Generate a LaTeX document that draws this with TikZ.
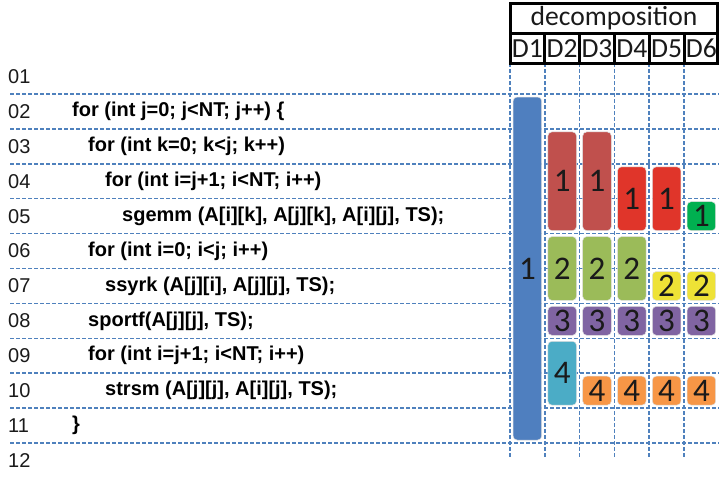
\documentclass[tikz,border=0pt]{standalone}
\usepackage{fontspec}
\setmainfont{Liberation Sans}
\newfontfamily\calib{Carlito}
\definecolor{gridblue}{HTML}{4F81BD}
\definecolor{cblue}{HTML}{4F7FBF}
\definecolor{cdred}{HTML}{C0504D}
\definecolor{cbred}{HTML}{E0352A}
\definecolor{cdgreen}{HTML}{00B050}
\definecolor{clgreen}{HTML}{9BBB59}
\definecolor{cyellow}{HTML}{EEE236}
\definecolor{cpurple}{HTML}{8064A2}
\definecolor{cteal}{HTML}{4BACC6}
\definecolor{corange}{HTML}{F79646}
\definecolor{txt}{HTML}{1A1A1A}
\tikzset{
  gridline/.style={draw=gridblue, line width=1.5pt, dash pattern=on 4pt off 2pt},
  frame/.style={draw=black, line width=3pt},
  blk/.style={rounded corners=4pt, minimum width=28.6pt, inner sep=0pt, text=txt,
              draw=white!75!gray, line width=0.5pt,
              font=\calib\fontsize{33}{33}\selectfont},
  hdr/.style={inner sep=0pt, text=txt, font=\calib\fontsize{27.6}{27.6}\selectfont},
  lnum/.style={anchor=west, inner sep=0pt, text=txt, font=\fontsize{20}{20}\selectfont},
  code/.style={anchor=west, inner sep=0pt, text=black, font=\bfseries\fontsize{20}{20}\selectfont},
}
\begin{document}
\begin{tikzpicture}[x=1pt, y=-1pt]
\useasboundingbox (0,0) rectangle (719,477);
% horizontal grid lines
\foreach \k in {0,...,10} {
  \draw[gridline] (10,94+34.9*\k) -- (719,94+34.9*\k);
}
% vertical grid lines
\foreach \k in {0,...,5} {
  \draw[gridline] (510+34.8*\k,63) -- (510+34.8*\k,458);
}
% header
\draw[frame] (510,3) rectangle (717,63);
\draw[frame] (510,33) -- (717,33);
\foreach \k in {1,...,5} {
  \draw[frame] (510+34.8*\k,33) -- (510+34.8*\k,63);
}
\node[hdr] (dec) at (614,18) {decomposition};
\foreach \k in {1,...,6} {
  \node[hdr] (D\k) at (510+34.8*\k-17.4,48.5) {D\k};
}
% line numbers
\foreach \r in {1,...,9} {
  \node[lnum] (n\r) at (8,76.55+34.9*\r-34.9) {0\r};
}
\foreach \r in {10,11,12} {
  \node[lnum] (n\r) at (8,76.55+34.9*\r-34.9) {\r};
}
% code
\node[code] (c02) at (72,111.45) {for (int j=0; j<NT; j++) \{};
\node[code] (c03) at (88,146.35) {for (int k=0; k<j; k++)};
\node[code] (c04) at (105,181.25) {for (int i=j+1; i<NT; i++)};
\node[code] (c05) at (122,216.15) {sgemm (A[i][k], A[j][k], A[i][j], TS);};
\node[code] (c06) at (88,251.05) {for (int i=0; i<j; i++)};
\node[code] (c07) at (105,285.95) {ssyrk (A[j][i], A[j][j], TS);};
\node[code] (c08) at (88,320.85) {sportf(A[j][j], TS);};
\node[code] (c09) at (88,355.75) {for (int i=j+1; i<NT; i++)};
\node[code] (c10) at (105,390.65) {strsm (A[j][j], A[i][j], TS);};
\node[code] (c11) at (72,425.55) {\}};
% blocks
\node[blk, fill=cblue, minimum height=343pt] (b1) at (527.4,268.5) {1};
\node[blk, fill=cdred, minimum height=98.7pt] (r2) at (562.2,181.25) {1};
\node[blk, fill=cdred, minimum height=98.7pt] (r3) at (597.0,181.25) {1};
\node[blk, fill=cbred, minimum height=63.8pt] (r4) at (631.8,198.7) {1};
\node[blk, fill=cbred, minimum height=63.8pt] (r5) at (666.6,198.7) {1};
\node[blk, fill=cdgreen, minimum height=28.9pt] (r6) at (701.4,216.15) {1};
\node[blk, fill=clgreen, minimum height=63.8pt] (g2) at (562.2,268.5) {2};
\node[blk, fill=clgreen, minimum height=63.8pt] (g3) at (597.0,268.5) {2};
\node[blk, fill=clgreen, minimum height=63.8pt] (g4) at (631.8,268.5) {2};
\node[blk, fill=cyellow, minimum height=28.9pt] (y5) at (666.6,285.95) {2};
\node[blk, fill=cyellow, minimum height=28.9pt] (y6) at (701.4,285.95) {2};
\foreach \k/\x in {2/562.2,3/597.0,4/631.8,5/666.6,6/701.4} {
  \node[blk, fill=cpurple, minimum height=28.9pt] (p\k) at (\x,320.85) {3};
}
\node[blk, fill=cteal, minimum height=63.8pt] (t2) at (562.2,373.2) {4};
\foreach \k/\x in {3/597.0,4/631.8,5/666.6,6/701.4} {
  \node[blk, fill=corange, minimum height=28.9pt] (o\k) at (\x,390.65) {4};
}
\end{tikzpicture}
\end{document}
